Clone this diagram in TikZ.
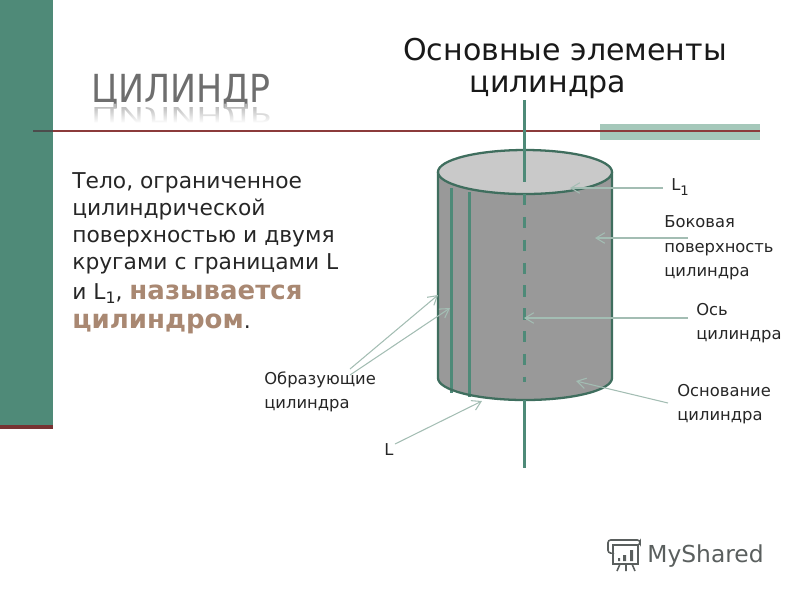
\documentclass[tikz,border=0pt]{standalone}
\usepackage{fontspec}
\setmainfont{DejaVu Sans}
\usetikzlibrary{arrows.meta,fadings}
\definecolor{barGreen}{HTML}{4F8A78}
\definecolor{paleGreen}{HTML}{A5C8BA}
\definecolor{edgeGreen}{HTML}{3F6E5E}
\definecolor{axisGreen}{HTML}{4E8A78}
\definecolor{ruleRed}{HTML}{8C3B3B}
\definecolor{boldBrown}{HTML}{A98872}
\definecolor{pointerGreen}{HTML}{A3BDB3}
\definecolor{titleGray}{HTML}{6E6E6E}
\definecolor{logoGray}{HTML}{5A5F5E}
\newcommand{\lone}[1]{L\raisebox{-2.5pt}{\fontsize{#1}{#1}\selectfont 1}}
\begin{document}
\begin{tikzpicture}[
    x=0.02cm, y=-0.02cm,
    label/.style={inner sep=0pt, align=left, anchor=west, font=\fontsize{9.3}{14}\selectfont, text=black!85},
    heading/.style={inner sep=0pt, font=\fontsize{17.1}{20}\selectfont, text=black!90},
    pointer/.style={draw=pointerGreen, line width=0.6pt, -{Straight Barb[length=5pt,width=6pt]}},
    axis/.style={draw=axisGreen, line width=1.7pt},
    genline/.style={draw=axisGreen, line width=1.7pt},
    edgeline/.style={draw=edgeGreen, line width=1.3pt}
]
\useasboundingbox (0,0) rectangle (800,600);

% Полоса слева
\fill[barGreen] (0,0) rectangle (53,425);
\fill[ruleRed!85!black] (0,425) rectangle (53,429);

% Заголовок
\node[inner sep=0pt, text=titleGray, xscale=0.9, transform shape, font=\fontsize{22}{24}\selectfont] (title) at (181,91) {ЦИЛИНДР};
\node[inner sep=0pt, text=titleGray!50, xscale=0.9, yscale=-0.55, transform shape, font=\fontsize{22}{24}\selectfont] (titleshade) at (181,114) {ЦИЛИНДР};
\fill[white, path fading=north] (85,105) rectangle (280,123);

% Линии
\fill[paleGreen] (600,124) rectangle (760,140);
\draw[ruleRed, line width=1.1pt] (53,131) -- (760,131);
\draw[black!70, line width=1.1pt] (33,131) -- (53,131);

% Текст
\node[heading] (main1) at (565,50) {Основные элементы};
\node[heading] (main2) at (548,87) {цилиндра};
\node[inner sep=0pt, align=left, anchor=north west, font=\fontsize{12.4}{15.4}\selectfont, text=black!85] (body) at (72,172) {Тело, ограниченное\\цилиндрической\\поверхностью и двумя\\кругами с границами L\\[1.5pt]и \lone{9}, {\fontsize{14.8}{15.4}\selectfont\bfseries\color{boldBrown}называется}\\[1.5pt]{\fontsize{14.8}{15.4}\selectfont\bfseries\color{boldBrown}цилиндром}.};

% Цилиндр
\path[fill=black!40] (438,172) -- (438,378) arc[start angle=180, end angle=0, x radius=87, y radius=22] -- (612,172) -- cycle;
\draw[genline] (451,188) -- (451,393);
\draw[genline] (469,192) -- (469,397);
\draw[edgeline] (438,172) -- (438,378) arc[start angle=180, end angle=0, x radius=87, y radius=22] -- (612,172);
\draw[edgeline, fill=black!21] (525,172) ellipse[x radius=87, y radius=22];

% Ось
\coordinate (axistop) at (524,100);
\coordinate (axisin) at (524,182);
\coordinate (axisdash) at (524,194);
\coordinate (axisdot) at (524,382);
\coordinate (axislow) at (524,400);
\coordinate (axisend) at (524,468);
\draw[axis] (axistop) -- (axisin);
\draw[axis, dash pattern=on 6.5pt off 6.5pt] (axisdash) -- (axisdot);
\draw[axis] (axislow) -- (axisend);

% Подписи
\node[label] (l1) at (671,187) {\lone{7.5}};
\node[label] (side) at (664,248) {Боковая\\поверхность\\цилиндра};
\node[label] (axislabel) at (696,323) {Ось\\цилиндра};
\node[label] (base) at (677,404) {Основание\\цилиндра};
\node[label] (gen) at (264,392) {Образующие\\цилиндра};
\node[label] (l) at (384,450) {L};

% Стрелки
\coordinate (l1from) at (663,188);
\coordinate (l1to) at (570,188);
\coordinate (sidefrom) at (688,238);
\coordinate (sideto) at (595,238);
\coordinate (axisfrom) at (688,318);
\coordinate (axisto) at (524,318);
\coordinate (basefrom) at (668,403);
\coordinate (baseto) at (576,381);
\coordinate (genfroma) at (350,369);
\coordinate (gentoa) at (438,295);
\coordinate (genfromb) at (350,375);
\coordinate (gentob) at (450,308);
\coordinate (lfrom) at (395,444);
\coordinate (lto) at (482,401);
\draw[pointer] (l1from) -- (l1to);
\draw[pointer] (sidefrom) -- (sideto);
\draw[pointer] (axisfrom) -- (axisto);
\draw[pointer] (basefrom) -- (baseto);
\draw[pointer] (genfroma) -- (gentoa);
\draw[pointer] (genfromb) -- (gentob);
\draw[pointer] (lfrom) -- (lto);

% Логотип
\node[inner sep=0pt, anchor=west, text=logoGray, font=\fontsize{13.3}{16}\selectfont] (logo) at (647,556) {MyShared};
\draw[logoGray, line width=0.9pt] (613,545) rectangle (638,564);
\draw[logoGray, line width=0.9pt, rounded corners=1.5pt] (610,553) -- (608,553) -- (608,540) -- (640,540) -- (640,545) -- (613,545);
\fill[logoGray] (618,558) rectangle (620,561) (623,555) rectangle (626,561) (630,550) rectangle (633,561);
\draw[logoGray, line width=0.9pt] (620,564) -- (617,571) (626,564) -- (626,571) (632,564) -- (635,571);
\end{tikzpicture}
\end{document}
